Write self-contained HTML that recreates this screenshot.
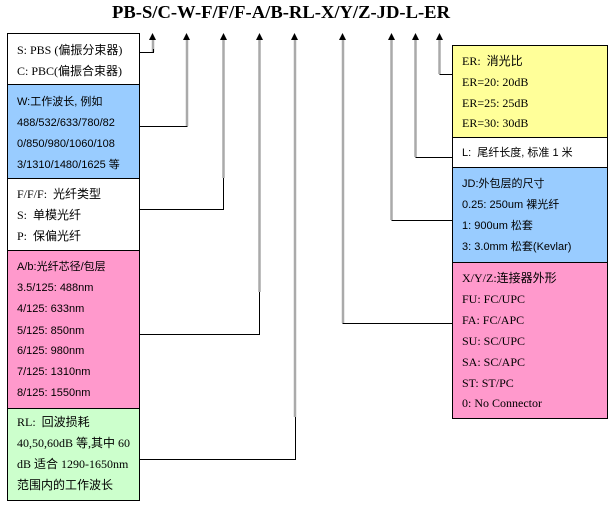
<!DOCTYPE html>
<html><head><meta charset="utf-8"><style>
html,body{margin:0;padding:0;background:#fff;}
svg{display:block;}
.s{font-family:"Liberation Sans","Noto Sans CJK SC",sans-serif;font-size:11px;fill:#000;}
.r{font-family:"Liberation Serif","Noto Sans CJK SC",serif;font-size:12px;fill:#000;}
</style></head><body>
<svg width="612" height="505" viewBox="0 0 612 505" xmlns="http://www.w3.org/2000/svg">
<text x="281" y="18" text-anchor="middle" font-family="Liberation Serif,serif" font-weight="bold" font-size="18" textLength="338" lengthAdjust="spacingAndGlyphs">PB-S/C-W-F/F/F-A/B-RL-X/Y/Z-JD-L-ER</text>
<!-- left boxes -->
<rect x="7.5" y="33.5" width="132" height="51" fill="#fff" stroke="#000"/>
<rect x="7.5" y="84.5" width="132" height="94" fill="#99ccff" stroke="#000"/>
<rect x="7.5" y="178.5" width="132" height="72" fill="#fff" stroke="#000"/>
<rect x="7.5" y="250.5" width="132" height="158" fill="#ff99cc" stroke="#000"/>
<rect x="7.5" y="408.5" width="132" height="92" fill="#ccffcc" stroke="#000"/>
<!-- right boxes -->
<rect x="452.5" y="45.5" width="155" height="92" fill="#ffff99" stroke="#000"/>
<rect x="452.5" y="137.5" width="155" height="30" fill="#fff" stroke="#000"/>
<rect x="452.5" y="167.5" width="155" height="95" fill="#99ccff" stroke="#000"/>
<rect x="452.5" y="262.5" width="155" height="156" fill="#ff99cc" stroke="#000"/>
<!-- arrows -->
<g fill="#000">
<polygon points="152.5,33 149,40 156,40"/><polygon points="186.5,33 183,40 190,40"/>
<polygon points="223.5,33 220,40 227,40"/><polygon points="259.5,33 256,40 263,40"/>
<polygon points="294.5,33 291,40 298,40"/><polygon points="342.5,33 339,40 346,40"/>
<polygon points="391.5,33 388,40 395,40"/><polygon points="415.5,33 412,40 419,40"/>
<polygon points="439.5,33 436,40 443,40"/>
</g>
<g stroke="#aaa" stroke-width="2.5" fill="none">
<line x1="153" y1="40" x2="153" y2="52"/>
<line x1="187" y1="40" x2="187" y2="126"/>
<line x1="223.5" y1="40" x2="223.5" y2="178"/>
<line x1="259.5" y1="40" x2="259.5" y2="292"/>
<line x1="295" y1="40" x2="295" y2="417"/>
<line x1="343" y1="40" x2="343" y2="323"/>
<line x1="391.5" y1="40" x2="391.5" y2="220"/>
<line x1="415.5" y1="40" x2="415.5" y2="157"/>
<line x1="439.5" y1="40" x2="439.5" y2="74"/>
</g>
<g stroke="#000" stroke-width="1" fill="none">
<polyline points="139,52.5 153.5,52.5 153.5,49"/>
<polyline points="139,126.5 187.5,126.5"/>
<polyline points="139,209.5 223.5,209.5 223.5,178"/>
<polyline points="139,334.5 259.5,334.5 259.5,292"/>
<polyline points="139,459.5 295.5,459.5 295.5,417"/>
<polyline points="452,323.5 342.5,323.5"/>
<polyline points="452,220.5 391.5,220.5"/>
<polyline points="452,157.5 415.5,157.5"/>
<polyline points="452,74.5 439.5,74.5"/>
</g>
<!-- left text -->
<text class="r" x="17" y="54">S: PBS (偏振分束器)</text>
<text class="r" x="17" y="75">C: PBC(偏振合束器)</text>
<text class="s" x="17" y="105">W:工作波长, 例如</text>
<text class="s" x="17" y="126">488/532/633/780/82</text>
<text class="s" x="17" y="147">0/850/980/1060/108</text>
<text class="s" x="17" y="168">3/1310/1480/1625 等</text>
<text class="r" x="17" y="198">F/F/F:&#160; 光纤类型</text>
<text class="r" x="17" y="219">S:&#160; 单模光纤</text>
<text class="r" x="17" y="240">P:&#160; 保偏光纤</text>
<text class="s" x="17" y="270">A/b:光纤芯径/包层</text>
<text class="s" x="17" y="291">3.5/125: 488nm</text>
<text class="s" x="17" y="312">4/125: 633nm</text>
<text class="s" x="17" y="334">5/125: 850nm</text>
<text class="s" x="17" y="354">6/125: 980nm</text>
<text class="s" x="17" y="375">7/125: 1310nm</text>
<text class="s" x="17" y="396">8/125: 1550nm</text>
<text class="r" x="17" y="426">RL:&#160; 回波损耗</text>
<text class="r" x="17" y="447">40,50,60dB 等,其中 60</text>
<text class="r" x="17" y="468">dB 适合 1290-1650nm</text>
<text class="r" x="17" y="489">范围内的工作波长</text>
<!-- right text -->
<text class="r" x="462" y="65">ER:&#160; 消光比</text>
<text class="r" x="462" y="86">ER=20: 20dB</text>
<text class="r" x="462" y="107">ER=25: 25dB</text>
<text class="r" x="462" y="127">ER=30: 30dB</text>
<text class="s" x="462" y="156">L:&#160; 尾纤长度, 标准 1 米</text>
<text class="s" x="462" y="187">JD:外包层的尺寸</text>
<text class="s" x="462" y="208">0.25: 250um 裸光纤</text>
<text class="s" x="462" y="229">1: 900um 松套</text>
<text class="s" x="462" y="250">3: 3.0mm 松套(Kevlar)</text>
<text class="r" x="462" y="282">X/Y/Z:连接器外形</text>
<text class="r" x="462" y="303">FU: FC/UPC</text>
<text class="r" x="462" y="324">FA: FC/APC</text>
<text class="r" x="462" y="345">SU: SC/UPC</text>
<text class="r" x="462" y="366">SA: SC/APC</text>
<text class="r" x="462" y="387">ST: ST/PC</text>
<text class="r" x="462" y="407">0: No Connector</text>
</svg>
</body></html>
